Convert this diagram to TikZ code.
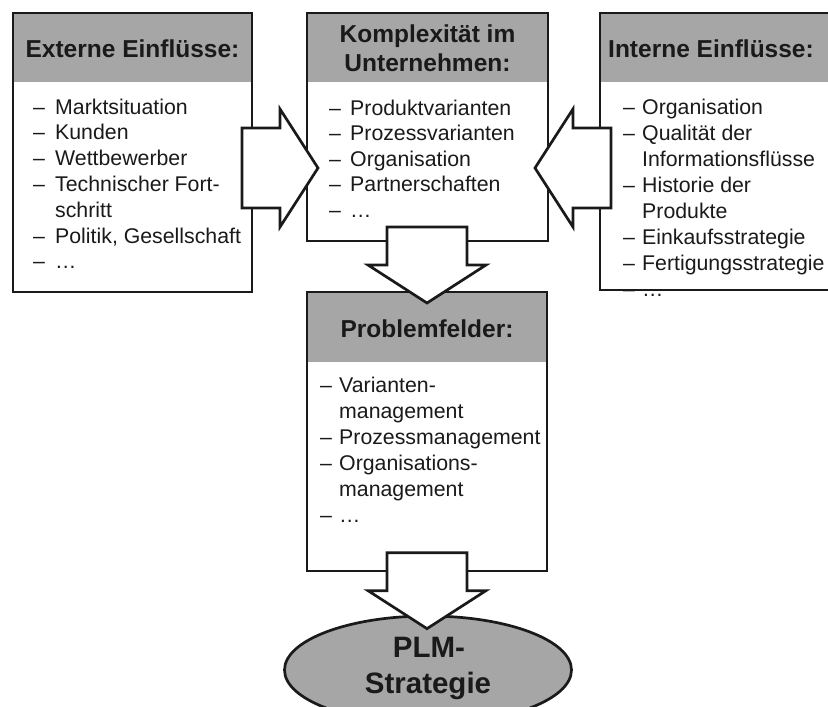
\documentclass[tikz,border=0pt]{standalone}
\usepackage{fontspec}
\setmainfont{Liberation Sans}
\usetikzlibrary{calc,shapes.geometric}
\definecolor{hdrgray}{RGB}{166,166,166}
\definecolor{ink}{RGB}{26,26,26}

\begin{document}
\begin{tikzpicture}[x=1pt,y=-1pt,
  panel/.style={draw=ink, line width=2.7pt, fill=white, inner sep=0pt, outer sep=0pt, anchor=north west},
  rim/.style={draw=ink, line width=2.7pt},
  header/.style={font=\fontsize{24.5}{29}\selectfont\bfseries, text=ink, anchor=base, inner sep=0pt},
  entry/.style={font=\fontsize{21.3}{26}\selectfont, text=ink, anchor=base west, inner sep=0pt},
  goal/.style={ellipse, draw=ink, line width=2.7pt, fill=hdrgray, inner sep=0pt},
  goaltext/.style={font=\fontsize{29.5}{35}\selectfont\bfseries, text=ink, anchor=base, inner sep=0pt},
  arrowbody/.style={draw=ink, fill=white, line width=2.7pt, line join=miter},
  pics/blockarrow/.style={code={
    \draw[arrowbody] (0,0) -- (-38,-59) -- (-38,-40) -- (-76,-40)
      -- (-76,40) -- (-38,40) -- (-38,59) -- cycle;}}
]
\useasboundingbox (0,0) rectangle (828,707);
\clip (0,0) rectangle (828,707);

% ---------- panels with grey title bands ----------
\node[panel, minimum width=239pt, minimum height=279pt] (ext) at (13,13) {};
\fill[hdrgray] (ext.north west) rectangle ($(ext.north east)+(0,69)$);
\draw[rim] (ext.north west) rectangle (ext.south east);

\node[panel, minimum width=241pt, minimum height=228pt] (cplx) at (307,13) {};
\fill[hdrgray] (cplx.north west) rectangle ($(cplx.north east)+(0,69)$);
\draw[rim] (cplx.north west) rectangle (cplx.south east);

\node[panel, minimum width=240pt, minimum height=277pt] (int) at (600,13) {};
\fill[hdrgray] (int.north west) rectangle ($(int.north east)+(0,69)$);
\draw[rim] (int.north west) rectangle (int.south east);

\node[panel, minimum width=240pt, minimum height=279pt] (prob) at (307,292) {};
\fill[hdrgray] (prob.north west) rectangle ($(prob.north east)+(0,70)$);
\draw[rim] (prob.north west) rectangle (prob.south east);

\node[goal, minimum width=287pt, minimum height=108pt] (plm) at (428,670) {};

% ---------- titles ----------
\node[header] (ext-h) at (132.5,57) {Externe Einflüsse:};
\node[header] (cplx-h1) at (427.5,42) {Komplexität im};
\node[header] (cplx-h2) at (427.5,71) {Unternehmen:};
\node[header, anchor=base west] (int-h) at (608,57) {Interne Einflüsse:};
\node[header] (prob-h) at (427,337) {Problemfelder:};
\node[goaltext] (plm-1) at (429,657) {PLM-};
\node[goaltext] (plm-2) at (428,693) {Strategie};

% ---------- item lists (1 = new item with dash, 0 = continued line) ----------
\foreach \d/\t [count=\i from 0] in {1/Marktsituation,1/Kunden,1/Wettbewerber,
    1/Technischer Fort-,0/schritt,1/{Politik, Gesellschaft},1/…}{
  \node[entry] (ext-t\i) at (55,114+25.8*\i) {\t};
  \ifnum\d=1 \node[entry] (ext-d\i) at (33,114+25.8*\i) {–};\fi
}
\foreach \d/\t [count=\i from 0] in {1/Produktvarianten,1/Prozessvarianten,
    1/Organisation,1/Partnerschaften,1/…}{
  \node[entry] (cplx-t\i) at (350,115+25.6*\i) {\t};
  \ifnum\d=1 \node[entry] (cplx-d\i) at (329,115+25.6*\i) {–};\fi
}
\foreach \d/\t [count=\i from 0] in {1/Organisation,1/Qualität der,
    0/Informationsflüsse,1/Historie der,0/Produkte,1/Einkaufsstrategie,
    1/Fertigungsstrategie,1/…}{
  \node[entry] (int-t\i) at (642,114+26*\i) {\t};
  \ifnum\d=1 \node[entry] (int-d\i) at (623,114+26*\i) {–};\fi
}
\foreach \d/\t [count=\i from 0] in {1/Varianten-,0/management,
    1/Prozessmanagement,1/Organisations-,0/management,1/…}{
  \node[entry] (prob-t\i) at (339,392+26*\i) {\t};
  \ifnum\d=1 \node[entry] (prob-d\i) at (320,392+26*\i) {–};\fi
}

% ---------- block arrows ----------
\coordinate (tipA) at ($(cplx.west |- 0,168)+(11,0)$);
\coordinate (tipB) at ($(cplx.east |- 0,168)+(-13,0)$);
\coordinate (tipC) at ($(prob.north)+(0,11)$);
\coordinate (tipD) at ($(plm.north)+(-1,14)$);
\pic (arrA) at (tipA) {blockarrow};
\pic[rotate=180] (arrB) at (tipB) {blockarrow};
\pic[rotate=-90] (arrC) at (tipC) {blockarrow};
\pic[rotate=-90] (arrD) at (tipD) {blockarrow};
\end{tikzpicture}
\end{document}
